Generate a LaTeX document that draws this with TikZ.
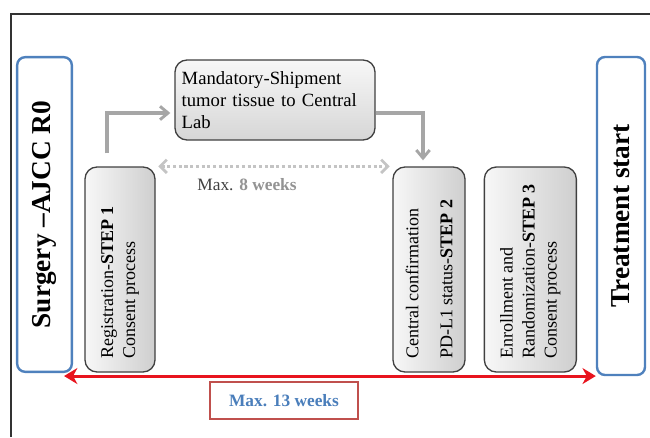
\documentclass[tikz,border=0pt]{standalone}
\usepackage{fontspec}
\setmainfont{Liberation Serif}
\usepackage{xcolor}
\usetikzlibrary{arrows.meta, positioning, calc}

\definecolor{boxblue}{HTML}{4F81BD}
\definecolor{linegray}{HTML}{A6A6A6}
\definecolor{dotgray}{HTML}{C4C4C4}
\definecolor{maxred}{HTML}{C0504D}
\definecolor{arrred}{HTML}{E8141E}
\definecolor{maxblue}{HTML}{4A7EBB}

\newcommand{\vtext}[1]{\rotatebox{90}{\begin{minipage}{134pt}\raggedright #1\end{minipage}}}

\begin{document}
\begin{tikzpicture}[
  x=0.75pt, y=-0.75pt,
  sidebox/.style={draw=boxblue, line width=1.8pt, rounded corners=6pt, fill=white,
              inner sep=0pt, font=\fontsize{20.5}{24}\selectfont\bfseries},
  stepbox/.style={draw=black!75, line width=1pt, rounded corners=9pt,
              left color=gray!6, right color=gray!38, inner sep=0pt,
              minimum height=153.75pt, font=\fontsize{13.5}{16.5}\selectfont},
  shipbox/.style={draw=black!75, line width=1pt, rounded corners=9pt,
              top color=gray!6, bottom color=gray!32, inner sep=0pt,
              align=left, text width=140pt, font=\fontsize{14}{16.5}\selectfont},
  maxbox/.style={draw=maxred, line width=1.5pt, fill=white, inner sep=0pt,
              text=maxblue, font=\fontsize{13}{15}\selectfont\bfseries},
  grayarr/.style={-{Straight Barb[length=6pt, width=10pt, line width=2.2pt]}, linegray, line width=2.3pt},
  dotarr/.style={{Straight Barb[length=5pt, width=10pt, line width=2pt]}-{Straight Barb[length=5pt, width=10pt, line width=2pt]},
              dotgray, line width=2.3pt, dotted},
  redarr/.style={{Stealth[length=10pt, width=12pt]}-{Stealth[length=10pt, width=12pt]}, arrred, line width=2.3pt},
]
\useasboundingbox (0,0) rectangle (650,437);

% --- page frame ---
\draw[black!80, line width=0.8pt] (11,437) -- (11,14) -- (650,14);

% --- the two end points of the timeline ---
\node[sidebox, minimum width=41pt, minimum height=236pt] (surgery) at (44.5,214.5)
  {\rotatebox{90}{Surgery \textendash AJCC R0}};
\node[sidebox, minimum width=36pt, minimum height=238.5pt] (treat) at (621,216)
  {\rotatebox{90}{Treatment start}};

% --- the three steps ---
\node[stepbox, minimum width=52.5pt] (step1) at (120,269.5)
  {\vtext{Registration-\textbf{STEP~1}\\Consent process}};
\node[stepbox, minimum width=54pt] (step2) at (429,269.5)
  {\vtext{Central confirmation\\[9pt]PD-L1 status-\textbf{STEP~2}}};
\node[stepbox, minimum width=69pt, right=13.5pt of step2] (step3)
  {\vtext{Enrollment and\\Randomization-\textbf{STEP~3}\\Consent process}};

% --- tissue shipment ---
\node[shipbox, minimum width=150pt, minimum height=60pt] (ship) at (275,100)
  {Mandatory-Shipment\\tumor tissue to Central\\Lab};

\draw[grayarr, shorten >=3pt] ([xshift=-9.75pt, yshift=9.75pt]step1.north) |- ([yshift=-9.75pt]ship.west);
\draw[grayarr] ([yshift=-9.75pt]ship.east) -| ([xshift=-4.5pt, yshift=4.5pt]step2.north);

% --- time windows ---
\draw[dotarr] ([xshift=2pt]step1.north east) -- ([xshift=-2pt]step2.north west);
\node[font=\fontsize{13}{15}\selectfont] (max8) at (247,185)
  {\textcolor{black!75}{Max.} \textcolor{gray!85}{\textbf{8 weeks}}};

\draw[redarr] ([xshift=-6.75pt, yshift=-2.25pt]surgery.south east)
  -- ($(surgery.south east -| treat.west)+(0,-2.25pt)$);
\node[maxbox, minimum width=111pt, minimum height=27.75pt] (max13) at (284,400.5) {Max. 13 weeks};

\end{tikzpicture}
\end{document}
